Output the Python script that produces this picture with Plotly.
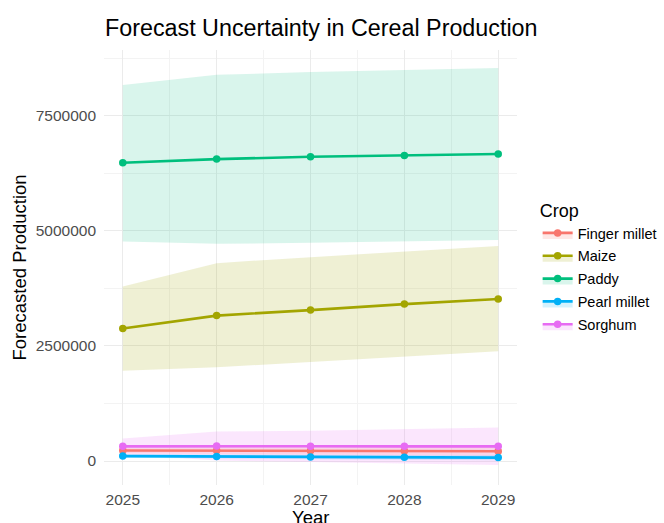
import plotly.graph_objects as go

# Forecast years
years = [2025, 2026, 2027, 2028, 2029]

# Point forecasts and prediction intervals per crop
crops = ["Finger millet", "Maize", "Paddy", "Pearl millet", "Sorghum"]

finger_millet = [230000, 228000, 222000, 218000, 212000]
finger_millet_lo = [170000, 150000, 140000, 130000, 120000]
finger_millet_hi = [290000, 306000, 304000, 306000, 304000]

maize = [2880000, 3160000, 3280000, 3410000, 3520000]
maize_lo = [1960000, 2040000, 2150000, 2260000, 2385000]
maize_hi = [3790000, 4300000, 4430000, 4550000, 4670000]

paddy = [6480000, 6560000, 6610000, 6640000, 6670000]
paddy_lo = [4770000, 4720000, 4740000, 4770000, 4800000]
paddy_hi = [8170000, 8390000, 8450000, 8500000, 8540000]

pearl_millet = [108000, 100000, 90000, 82000, 75000]
pearl_millet_lo = [70000, 50000, 40000, 30000, 20000]
pearl_millet_hi = [150000, 150000, 140000, 134000, 130000]

sorghum = [320000, 328000, 322000, 320000, 320000]
sorghum_lo = [150000, 10000, -20000, -50000, -85000]
sorghum_hi = [490000, 640000, 660000, 690000, 730000]

y_ticks = [0, 2500000, 5000000, 7500000]
y_minor = [1250000, 3750000, 6250000, 8750000]
x_minor = [2025.5, 2026.5, 2027.5, 2028.5]

colors = ["#F8766D", "#A3A500", "#00BF7D", "#00B0F6", "#E76BF3"]
fills = ["rgba(248,118,109,0.17)", "rgba(163,165,0,0.17)", "rgba(0,191,125,0.15)",
         "rgba(0,176,246,0.17)", "rgba(231,107,243,0.17)"]

series = {
    "Finger millet": (finger_millet, finger_millet_lo, finger_millet_hi),
    "Maize": (maize, maize_lo, maize_hi),
    "Paddy": (paddy, paddy_lo, paddy_hi),
    "Pearl millet": (pearl_millet, pearl_millet_lo, pearl_millet_hi),
    "Sorghum": (sorghum, sorghum_lo, sorghum_hi),
}

fig = go.Figure()

# Ribbons first so every line sits on top of all bands
for crop, fc in zip(crops, fills):
    mid, lo, hi = series[crop]
    fig.add_trace(go.Scatter(x=years, y=lo, mode="lines", line=dict(width=0),
                             showlegend=False, hoverinfo="skip"))
    fig.add_trace(go.Scatter(x=years, y=hi, mode="lines", line=dict(width=0),
                             fill="tonexty", fillcolor=fc, showlegend=False,
                             hoverinfo="skip"))

# Forecast lines with points
for crop, col in zip(crops, colors):
    mid, lo, hi = series[crop]
    fig.add_trace(go.Scatter(x=years, y=mid, mode="lines+markers", name=crop,
                             line=dict(color=col, width=2.6),
                             marker=dict(color=col, size=7.5),
                             showlegend=False))

# Legend keys: band colour behind line and point
for crop, col, fc in zip(crops, colors, fills):
    fig.add_trace(go.Scatter(x=[None], y=[None], mode="lines+markers", name=crop,
                             legendgroup=crop,
                             fill="toself", fillcolor=fc,
                             line=dict(color=col, width=2.6),
                             marker=dict(color=col, size=7.5)))

grid = "#EBEBEB"
fig.update_layout(
    width=664, height=523,
    margin=dict(l=104, r=147, t=50, b=38, autoexpand=False),
    paper_bgcolor="white", plot_bgcolor="white",
    font=dict(family="Liberation Sans, Arial, sans-serif", color="#000000"),
    title=dict(text="Forecast Uncertainty in Cereal Production",
               x=105 / 664, xref="container", xanchor="left",
               y=1 - 28 / 523, yref="container", yanchor="middle",
               font=dict(size=23.3, color="#000000")),
    xaxis=dict(range=[2024.8, 2029.2], tickvals=years,
               ticktext=[str(y) for y in years],
               showgrid=True, gridcolor=grid, gridwidth=1.1,
               minor=dict(tickvals=x_minor, showgrid=True, gridcolor="#F3F3F3", gridwidth=0.8),
               zeroline=False, showline=False, ticks="",
               ticklabelstandoff=3,
               tickfont=dict(size=15.5, color="#4D4D4D"),
               automargin=False),
    yaxis=dict(range=[-520000, 8930000], tickvals=y_ticks,
               ticktext=[str(v) for v in y_ticks],
               showgrid=True, gridcolor=grid, gridwidth=1.1,
               minor=dict(tickvals=y_minor, showgrid=True, gridcolor="#F3F3F3", gridwidth=0.8),
               zeroline=False, showline=False, ticks="",
               ticklabelstandoff=7,
               tickfont=dict(size=15.5, color="#4D4D4D"),
               title=dict(text="Forecasted Production", font=dict(size=18.5, color="#000000"),
                          standoff=4),
               automargin=False),
    annotations=[dict(text="Year", xref="paper", yref="paper", x=0.5, y=-0.074,
                      xanchor="center", yanchor="middle", showarrow=False,
                      font=dict(size=18.5, color="#000000"))],
    legend=dict(title=dict(text="Crop", font=dict(size=18)),
                font=dict(size=14.5, color="#000000"),
                x=1.05, xanchor="left", y=0.67, yanchor="top",
                traceorder="grouped",
                tracegroupgap=1, bgcolor="rgba(0,0,0,0)"),
    showlegend=True,
)

fig.write_html("out.html")
